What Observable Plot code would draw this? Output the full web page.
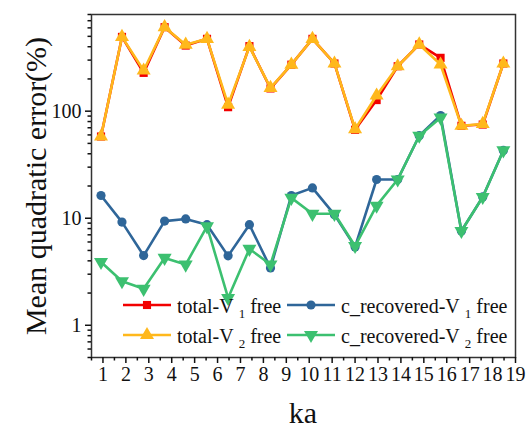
<!DOCTYPE html>
<html><head><meta charset="utf-8">
<script src="https://cdn.jsdelivr.net/npm/d3@7"></script>
<script src="https://cdn.jsdelivr.net/npm/@observablehq/plot@0.6"></script>
<style>body{margin:0;background:#fff}#chart{width:526px;height:430px}
#chart svg text{font-family:"Liberation Serif","Times New Roman",serif}</style>
</head><body><div id="chart"></div>
<script>
const ka = [0.915, 1.83, 2.775, 3.69, 4.61, 5.54, 6.46, 7.39, 8.31, 9.22, 10.14, 11.1, 12.0, 12.94, 13.86, 14.8, 15.73, 16.64, 17.57, 18.47];
const totalV1 = [58, 494, 228, 609, 410, 474, 109, 405, 163, 272, 474, 279, 67, 127, 263, 420, 315, 73, 75, 279];
const totalV2 = [58, 494, 240, 609, 418, 474, 115, 399, 165, 272, 474, 279, 68, 140, 263, 420, 273, 73, 76, 279];
const cRecV1 = [16.3, 9.2, 4.48, 9.4, 9.85, 8.7, 4.45, 8.7, 3.43, 16.3, 19.2, 10.8, 5.4, 23, 23, 59, 91, 7.6, 15.8, 43];
const cRecV2 = [3.9, 2.58, 2.19, 4.26, 3.69, 8.4, 1.8, 5.17, 3.7, 15.5, 11.0, 11.0, 5.5, 13.1, 23, 59, 87, 7.6, 15.8, 43];

const xMajor = [1,2,3,4,5,6,7,8,9,10,11,12,13,14,15,16,17,18,19];
const xMinor = [0.5,1.5,2.5,3.5,4.5,5.5,6.5,7.5,8.5,9.5,10.5,11.5,12.5,13.5,14.5,15.5,16.5,17.5,18.5];
const yMajor = [1, 10, 100];
const yMinor = [0.5,0.6,0.7,0.8,0.9,2,3,4,5,6,7,8,9,20,30,40,50,60,70,80,90,200,300,400,500,600,700,800];

const colors = {tV1: "#f20000", tV2: "#ffb81c", cV1: "#2f6699", cV2: "#3cc070"};

const triDown = {draw(ctx, size) {
  const y = -Math.sqrt(size / (Math.sqrt(3) * 3));
  ctx.moveTo(0, -y * 2);
  ctx.lineTo(-Math.sqrt(3) * y, y);
  ctx.lineTo(Math.sqrt(3) * y, y);
  ctx.closePath();
}};

const series = [
  {key: "tV1", values: totalV1, symbol: "square", r: 4.6},
  {key: "cV1", values: cRecV1, symbol: "circle", r: 4.6},
  {key: "tV2", values: totalV2, symbol: "triangle", r: 5.2},
  {key: "cV2", values: cRecV2, symbol: triDown, r: 5.2}
];

const marks = [];
for (const s of series) {
  const data = ka.map((k, i) => ({ka: k, v: s.values[i]}));
  marks.push(Plot.line(data, {x: "ka", y: "v", stroke: colors[s.key], strokeWidth: 2.6}));
  marks.push(Plot.dot(data, {x: "ka", y: "v", fill: colors[s.key], symbol: s.symbol, r: s.r}));
}

const chart = Plot.plot({
  width: 526, height: 430,
  marginLeft: 91, marginRight: 11, marginTop: 14, marginBottom: 73,
  style: "font-family:'Liberation Serif','Times New Roman',serif;font-size:20px;color:#111;background:#fff",
  x: {domain: [0.5, 19]},
  y: {type: "log", domain: [0.5, 800]},
  marks: [
    ...marks,
    Plot.frame({stroke: "#333", strokeWidth: 1.5}),
    Plot.axisX({ticks: xMajor, tickSize: 6, tickPadding: 3, tickFormat: d => d, label: null, fontSize: 20, strokeWidth: 1.5}),
    Plot.axisX({ticks: xMinor, tickSize: 3.5, tickFormat: () => "", label: null, strokeWidth: 1.5}),
    Plot.axisY({ticks: yMajor, tickSize: 6, tickPadding: 4, tickFormat: d => d, label: null, fontSize: 20, strokeWidth: 1.5}),
    Plot.axisY({ticks: yMinor, tickSize: 3.5, tickFormat: () => "", label: null, strokeWidth: 1.5})
  ]
});
document.getElementById("chart").appendChild(chart);

// axis titles and legend
const svg = d3.select(chart);
svg.append("text").attr("x", 303).attr("y", 423).attr("text-anchor", "middle")
  .attr("font-size", 30).attr("fill", "#111").text("ka");
svg.append("text").attr("transform", "translate(46,186) rotate(-90)").attr("text-anchor", "middle")
  .attr("font-size", 30).attr("fill", "#111").text("Mean quadratic error(%)");

const legendItems = [
  {key: "tV1", symbol: d3.symbolSquare, size: 66, label: "total-V", sub: "1", x: 123, y: 305},
  {key: "cV1", symbol: d3.symbolCircle, size: 66, label: "c_recovered-V", sub: "1", x: 287, y: 305},
  {key: "tV2", symbol: d3.symbolTriangle, size: 85, label: "total-V", sub: "2", x: 123, y: 335},
  {key: "cV2", symbol: triDown, size: 85, label: "c_recovered-V", sub: "2", x: 287, y: 335}
];
const lg = svg.append("g").attr("font-size", 20).attr("text-anchor", "start");
for (const it of legendItems) {
  lg.append("line").attr("x1", it.x).attr("x2", it.x + 48).attr("y1", it.y).attr("y2", it.y)
    .attr("stroke", colors[it.key]).attr("stroke-width", 2.6);
  lg.append("path").attr("transform", `translate(${it.x + 24},${it.y})`)
    .attr("d", d3.symbol(it.symbol, it.size)()).attr("fill", colors[it.key]);
  const t = lg.append("text").attr("x", it.x + 54).attr("y", it.y + 8).attr("fill", "#111").attr("text-anchor", "start");
  t.append("tspan").text(it.label);
  t.append("tspan").attr("font-size", 13).attr("dx", 5).attr("dy", 5).text(it.sub);
  t.append("tspan").attr("dy", -5).text(" free");
}
</script></body></html>
